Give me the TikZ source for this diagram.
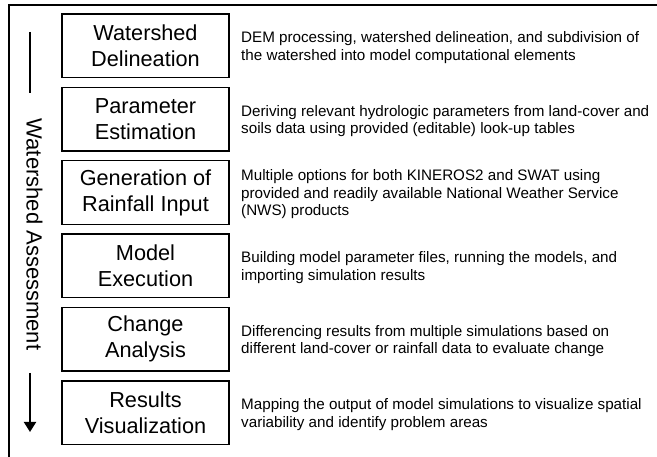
\documentclass[tikz,border=0pt]{standalone}
\usepackage{fontspec}
\setmainfont{Liberation Sans}
\usetikzlibrary{arrows.meta}
\tikzset{
  stagebox/.style={draw, line width=1.4pt, minimum width=167pt, minimum height=63.5pt,
    inner sep=0pt, align=center, font=\fontsize{21.7}{26}\selectfont},
  desc/.style={anchor=west, align=left, inner sep=0pt, font=\fontsize{15.2}{17.4}\selectfont},
  frameline/.style={line width=2pt},
  flowline/.style={line width=2pt}
}
\begin{document}
\begin{tikzpicture}[x=1pt,y=-1pt]
\useasboundingbox (0,0) rectangle (657,457);
\draw[frameline] (8.5,470) -- (8.5,5.5) -- (670,5.5);

\node[stagebox] (b1) at (145.5,45.75) {Watershed\\Delineation};
\node[stagebox] (b2) at (145.5,119.1) {Parameter\\Estimation};
\node[stagebox] (b3) at (145.5,192.5) {Generation of\\Rainfall Input};
\node[stagebox] (b4) at (145.5,265.9) {Model\\Execution};
\node[stagebox] (b5) at (145.5,339.3) {Change\\Analysis};
\node[stagebox] (b6) at (145.5,412.7) {Results\\Visualization};

\node[desc] (d1) at (241,47.5) {DEM processing, watershed delineation, and subdivision of\\the watershed into model computational elements};
\node[desc] (d2) at (241,120.8) {Deriving relevant hydrologic parameters from land-cover and\\soils data using provided (editable) look-up tables};
\node[desc] (d3) at (241,194.2) {Multiple options for both KINEROS2 and SWAT using\\provided and readily available National Weather Service\\(NWS) products};
\node[desc] (d4) at (241,267.6) {Building model parameter files, running the models, and\\importing simulation results};
\node[desc] (d5) at (241,341) {Differencing results from multiple simulations based on\\different land-cover or rainfall data to evaluate change};
\node[desc] (d6) at (241,414.4) {Mapping the output of model simulations to visualize spatial\\variability and identify problem areas};

\node[rotate=-90, inner sep=0pt, font=\fontsize{22}{26}\selectfont] (lab) at (34.5,234.5) {Watershed Assessment};
\coordinate (t1) at (30,32);
\coordinate (t2) at (30,93);
\coordinate (a1) at (30,373);
\coordinate (a2) at (30,432);
\draw[flowline] (t1) -- (t2);
\draw[flowline, -{Triangle[length=10pt,width=12pt]}] (a1) -- (a2);
\end{tikzpicture}
\end{document}
